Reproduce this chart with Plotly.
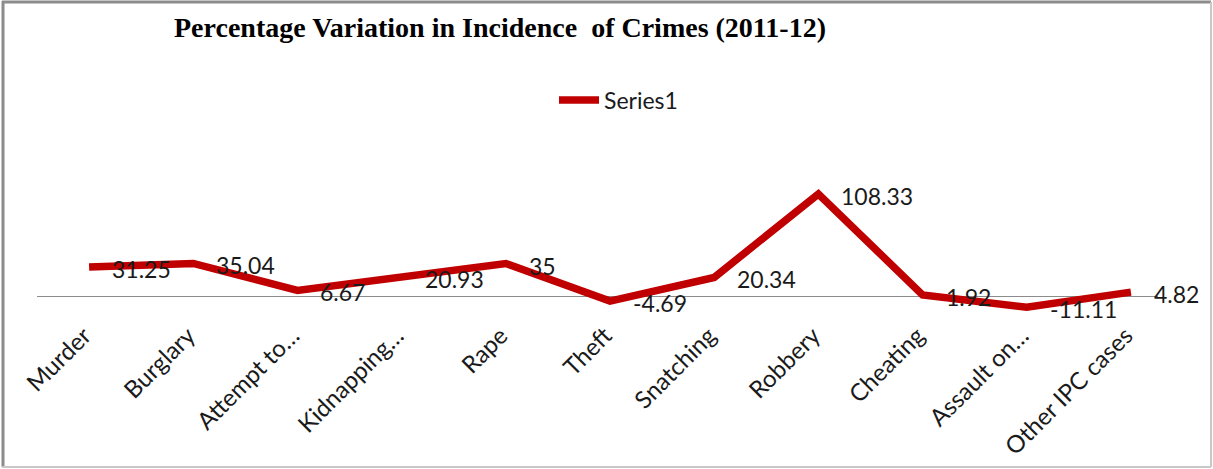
import plotly.graph_objects as go

# Crime heads and their percentage change between 2011 and 2012
categories = [
    "Murder", "Burglary", "Attempt to…", "Kidnapping…", "Rape", "Theft",
    "Snatching", "Robbery", "Cheating", "Assault on…", "Other IPC cases",
]
variation = [31.25, 35.04, 6.67, 20.93, 35, -4.69, 20.34, 108.33, 1.92, -11.11, 4.82]
series_name = "Series1"

W, H = 1213, 469
L, R, T, B = 37, 55, 140, 153
PW, PH = W - L - R, H - T - B

LINE_RED = "#C00000"
TEXT = "#1a1a1a"
SANS = "Lato, Carlito, Calibri, sans-serif"


def px_x(px):
    return (px - L) / PW


def px_y(py):
    return (H - B - py) / PH


fig = go.Figure()
fig.add_trace(go.Scatter(
    x=categories,
    y=variation,
    mode="lines",
    name=series_name,
    line=dict(color=LINE_RED, width=7.5),
    showlegend=True,
))

# value labels placed to the right of each point
annotations = [
    dict(x=c, y=v, xref="x", yref="y", text=f"{v:g}", showarrow=False,
         xanchor="left", yanchor="middle", xshift=21, yshift=-2,
         font=dict(family=SANS, size=23, color=TEXT))
    for c, v in zip(categories, variation)
]

# outer chart frame
frame = [
    dict(type="line", xref="paper", yref="paper", x0=px_x(3), x1=px_x(3),
         y0=px_y(1), y1=px_y(467), line=dict(color="#8c8c8c", width=3)),
    dict(type="line", xref="paper", yref="paper", x0=px_x(2), x1=px_x(1211),
         y0=px_y(2), y1=px_y(2), line=dict(color="#8c8c8c", width=3)),
    dict(type="line", xref="paper", yref="paper", x0=px_x(1211), x1=px_x(1211),
         y0=px_y(2), y1=px_y(467), line=dict(color="#c8c8c8", width=2)),
    dict(type="line", xref="paper", yref="paper", x0=px_x(2), x1=px_x(1211),
         y0=px_y(467), y1=px_y(467), line=dict(color="#c8c8c8", width=2)),
]

fig.update_layout(
    width=W, height=H,
    margin=dict(l=L, r=R, t=T, b=B, pad=0, autoexpand=False),
    paper_bgcolor="white", plot_bgcolor="white",
    title=dict(
        text="<b>Percentage Variation in Incidence\u00a0 of Crimes (2011-12)</b>",
        font=dict(family="Liberation Serif, Times New Roman, serif", size=28, color="#000"),
        x=500 / W, xanchor="center", xref="container",
        y=1 - 27 / H, yanchor="middle", yref="container",
    ),
    legend=dict(
        orientation="h", x=px_x(554), xanchor="left", y=px_y(100), yanchor="middle",
        font=dict(family=SANS, size=23, color=TEXT), bgcolor="rgba(0,0,0,0)",
        itemwidth=40,
    ),
    xaxis=dict(
        type="category", range=[-0.5, 10.26], tickangle=-45,
        tickfont=dict(family=SANS, size=24, color=TEXT),
        ticklabelshift=-5, automargin=False,
        showline=False, showgrid=False, ticks="", zeroline=False,
    ),
    yaxis=dict(
        range=[-20.36, 165.3], showticklabels=False, showgrid=False,
        zeroline=True, zerolinecolor="#8c8c8c", zerolinewidth=1, ticks="",
        showline=False, automargin=False,
    ),
    annotations=annotations,
    shapes=frame,
)

fig.write_html("out.html")
